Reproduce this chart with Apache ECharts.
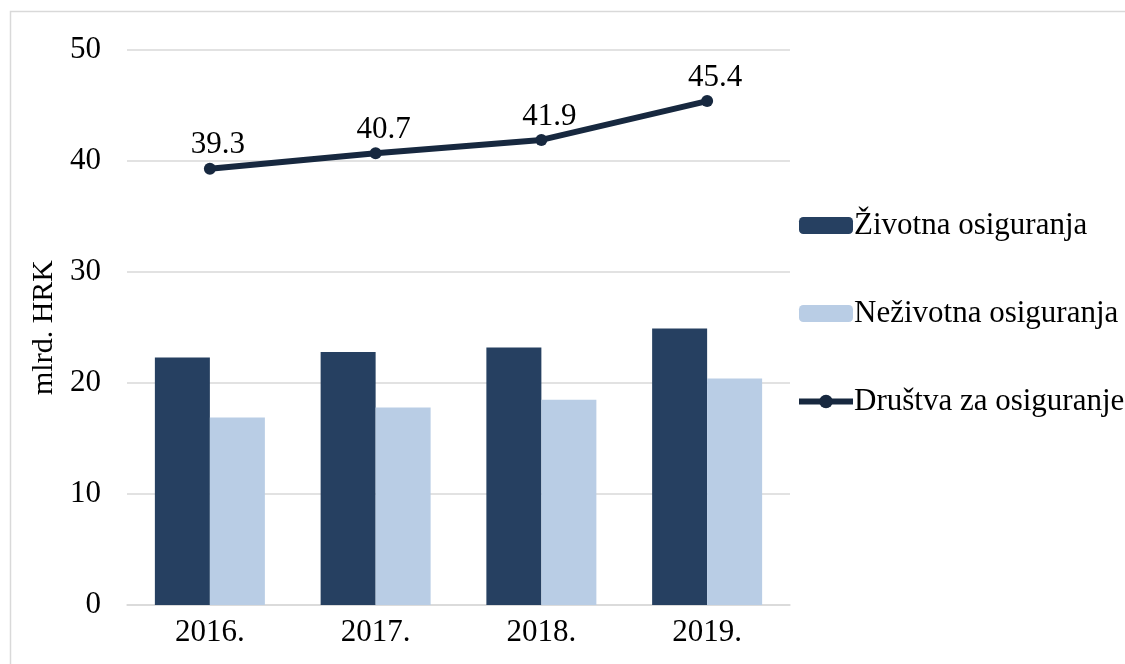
<!DOCTYPE html>
<html>
<head>
<meta charset="utf-8">
<script src="https://cdn.jsdelivr.net/npm/echarts@6/dist/echarts.min.js"></script>
<style>
  html, body { margin: 0; padding: 0; background: #fff; }
  #main { width: 1125px; height: 664px; }
</style>
</head>
<body>
<div id="main"></div>
<script>
const years = ['2016.', '2017.', '2018.', '2019.']
const zivotna = [22.3, 22.8, 23.2, 24.9]
const nezivotna = [16.9, 17.8, 18.5, 20.4]
const drustva = [39.3, 40.7, 41.9, 45.4]

const font = 'Liberation Serif'
const lineColor = '#17283f'
const chart = echarts.init(document.getElementById('main'))

const option = {
    animation: false,
    backgroundColor: '#fff',
    textStyle: { fontFamily: font, color: '#000' },
    graphic: [{
        type: 'rect',
        shape: { x: 10.5, y: 11.5, width: 1200, height: 700 },
        style: { fill: 'none', stroke: '#d9d9d9', lineWidth: 1.5 },
        silent: true
    }],
    grid: { left: 127, right: 335, top: 50, bottom: 59 },
    legend: {
        orient: 'vertical',
        left: 791,
        top: 205,
        itemWidth: 54,
        itemHeight: 17,
        itemGap: 57,
        textStyle: { fontFamily: font, fontSize: 31, color: '#000', lineHeight: 30, padding: [0, 0, 0, -4] },
        data: [
            { name: 'Životna osiguranja' },
            { name: 'Neživotna osiguranja' },
            {
                name: 'Društva za osiguranje',
                lineStyle: { width: 6, color: lineColor },
                itemStyle: { color: lineColor }
            }
        ]
    },
    xAxis: {
        type: 'category',
        data: years,
        axisLine: { lineStyle: { color: '#d9d9d9', width: 1.5 } },
        axisTick: { show: false },
        axisLabel: { fontFamily: font, fontSize: 31, color: '#000', margin: 12 }
    },
    yAxis: {
        type: 'value',
        min: 0,
        max: 50,
        interval: 10,
        name: 'mlrd. HRK',
        nameLocation: 'middle',
        nameGap: 66,
        nameTextStyle: { fontFamily: font, fontSize: 30, color: '#000' },
        axisLine: { show: false },
        axisTick: { show: false },
        splitLine: { lineStyle: { color: '#d9d9d9', width: 1.5 } },
        axisLabel: { fontFamily: font, fontSize: 31, color: '#000', margin: 26 }
    },
    series: [
        {
            name: 'Životna osiguranja',
            type: 'bar',
            data: zivotna,
            barWidth: 55,
            barGap: '0%',
            itemStyle: { color: '#264061' }
        },
        {
            name: 'Neživotna osiguranja',
            type: 'bar',
            data: nezivotna,
            barWidth: 55,
            itemStyle: { color: '#b9cde5' }
        },
        {
            name: 'Društva za osiguranje',
            type: 'line',
            data: drustva,
            symbol: 'circle',
            symbolSize: 12,
            lineStyle: { color: lineColor, width: 6 },
            itemStyle: { color: lineColor },
            label: {
                show: true,
                position: 'top',
                distance: 4,
                offset: [8, 2],
                fontFamily: font,
                fontSize: 31,
                color: '#000',
                formatter: p => p.value.toFixed(1)
            }
        }
    ]
}

chart.setOption(option)
</script>
</body>
</html>
